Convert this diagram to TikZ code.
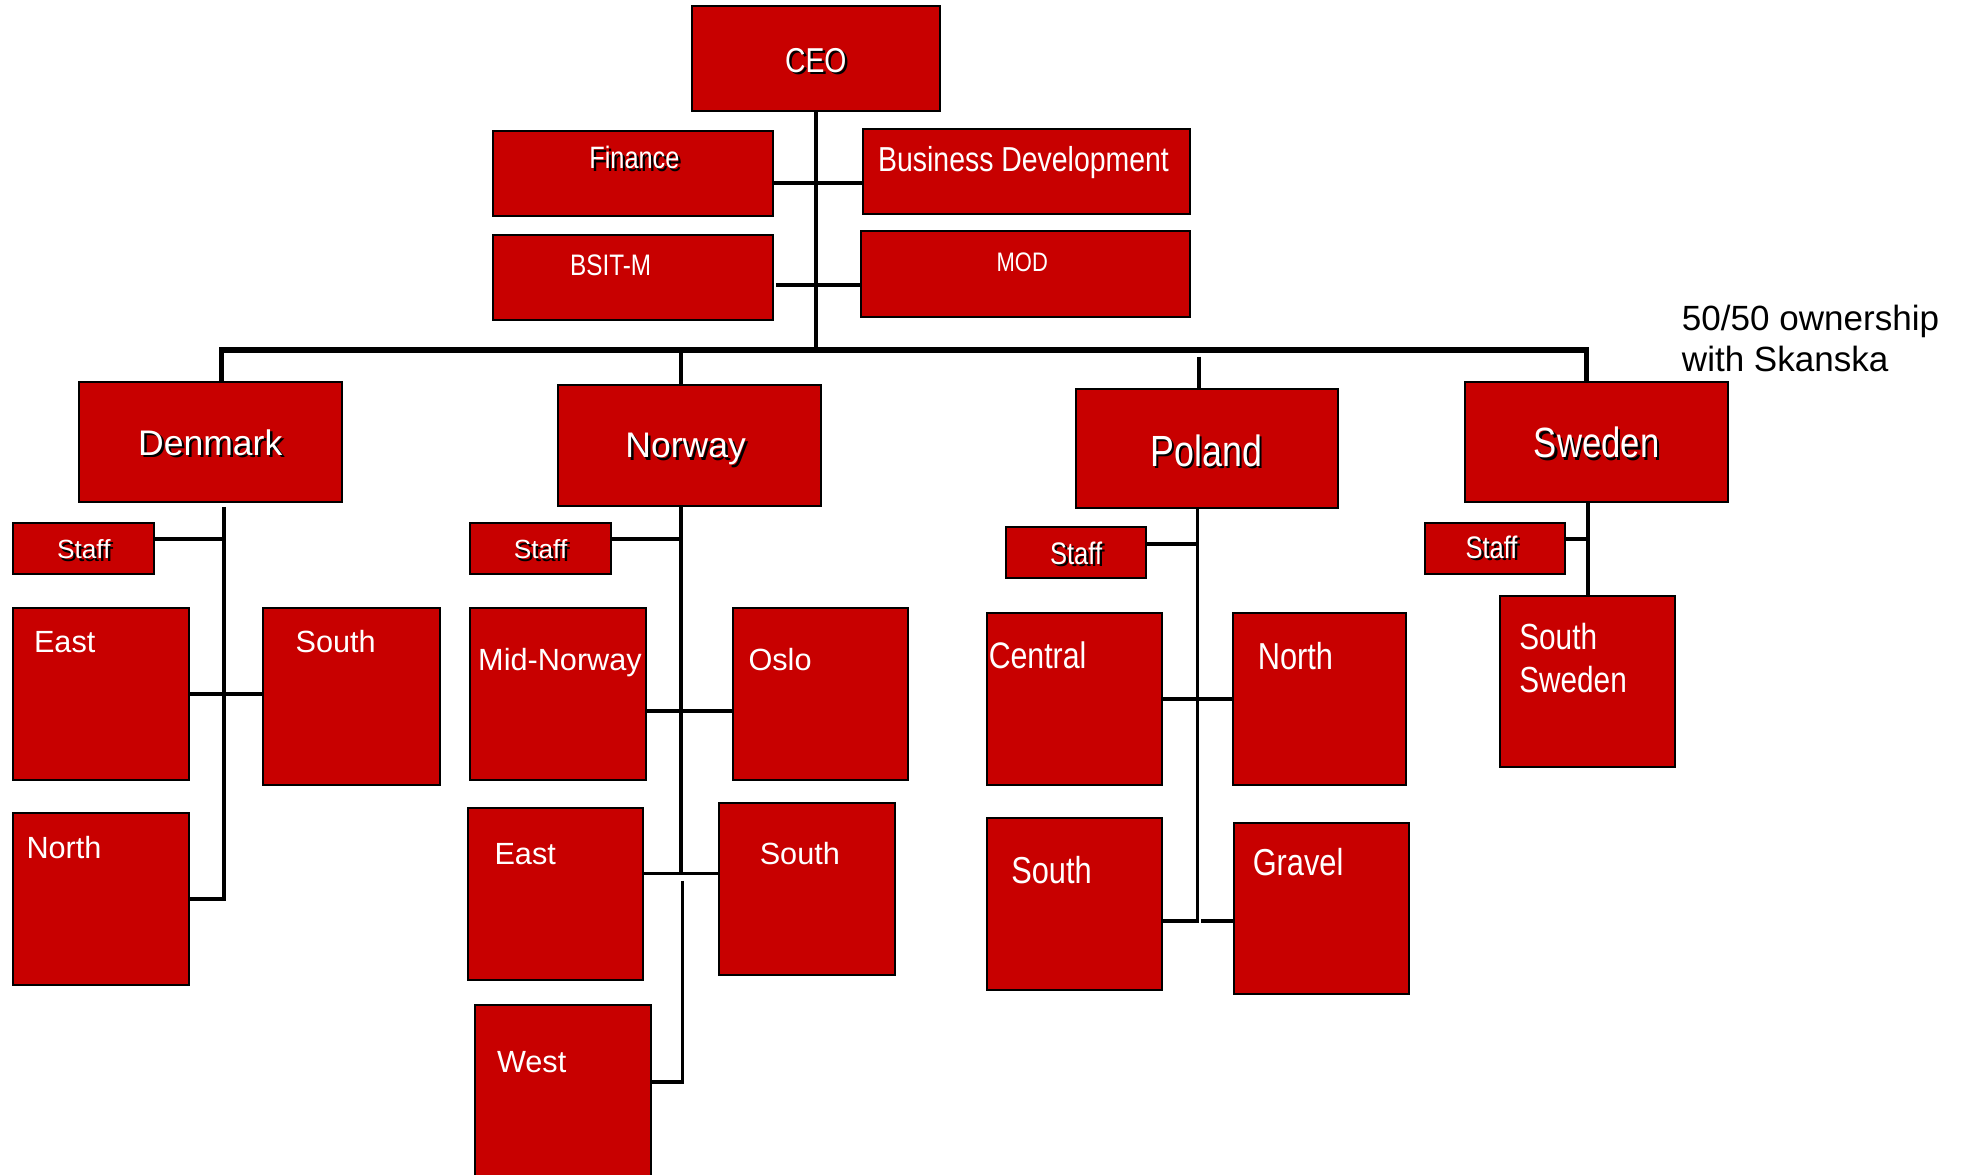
\documentclass[tikz,border=0pt]{standalone}
\usepackage{fontspec}
\setmainfont{Liberation Sans}
\newfontfamily\narrowfont[FakeStretch=0.82]{Liberation Sans}
\usetikzlibrary{calc}
\definecolor{boxred}{RGB}{200,0,0}
\newcommand\shdw[1]{\rlap{\hspace{2pt}\raisebox{-2pt}{\color{black}#1}}#1}
\begin{document}
\begin{tikzpicture}[x=1pt,y=-1pt,
  box/.style={draw=black,line width=1.6pt,fill=boxred,inner sep=0pt,outer sep=0pt},
  conn/.style={draw=black,line width=3pt},
  busline/.style={draw=black,line width=4.5pt},
  nt/.style={text=white,inner sep=0pt,font=\narrowfont\fontsize{#1}{#1}\selectfont},
  rt/.style={text=white,inner sep=0pt,font=\fontsize{#1}{#1}\selectfont},
]
\useasboundingbox (0,0) rectangle (1568,939);

% top level
\node[box,minimum width=198pt,minimum height=84pt] (ceo) at (652,47) {};
\node[box,minimum width=224pt,minimum height=68pt] (fin) at (506,139) {};
\node[box,minimum width=261pt,minimum height=68pt] (bd) at (820.5,137) {};
\node[box,minimum width=224pt,minimum height=68pt] (bsit) at (506,222) {};
\node[box,minimum width=263pt,minimum height=68pt] (mod) at (819.5,219) {};
% countries
\node[box,minimum width=210pt,minimum height=96pt] (dk) at (168,353) {};
\node[box,minimum width=210pt,minimum height=96pt] (no) at (551,356) {};
\node[box,minimum width=209pt,minimum height=95pt] (pl) at (964.5,358.5) {};
\node[box,minimum width=210pt,minimum height=96pt] (se) at (1276,353) {};
% staff
\node[box,minimum width=113pt,minimum height=41pt] (dkstaff) at (66.5,438.5) {};
\node[box,minimum width=112pt,minimum height=41pt] (nostaff) at (432,438.5) {};
\node[box,minimum width=112pt,minimum height=41pt] (plstaff) at (860,441.5) {};
\node[box,minimum width=112pt,minimum height=41pt] (sestaff) at (1195,438.5) {};
% regions
\node[box,minimum width=141pt,minimum height=137pt] (dkeast) at (80.5,554.5) {};
\node[box,minimum width=142pt,minimum height=141pt] (dksouth) at (281,556.5) {};
\node[box,minimum width=141pt,minimum height=137pt] (dknorth) at (80.5,718.5) {};
\node[box,minimum width=140pt,minimum height=137pt] (nomid) at (446,554.5) {};
\node[box,minimum width=140pt,minimum height=137pt] (nooslo) at (656,554.5) {};
\node[box,minimum width=140pt,minimum height=137pt] (noeast) at (444,714.5) {};
\node[box,minimum width=140pt,minimum height=137pt] (nosouth) at (645,710.5) {};
\node[box,minimum width=140pt,minimum height=147pt] (nowest) at (450,876.5) {};
\node[box,minimum width=140pt,minimum height=137pt] (plcentral) at (859,558.5) {};
\node[box,minimum width=139pt,minimum height=137pt] (plnorth) at (1054.5,558.5) {};
\node[box,minimum width=140pt,minimum height=137pt] (plsouth) at (859,722.5) {};
\node[box,minimum width=140pt,minimum height=136pt] (plgravel) at (1056,726) {};
\node[box,minimum width=140pt,minimum height=137pt] (sesouth) at (1269,544.5) {};

% bus and top connectors
\coordinate (busL) at (177,279.5);
\coordinate (busR) at (1268,279.5);
\draw[busline] (busL |- dk.north) -- (busL) -- (busR) -- (busR |- se.north);
\draw[conn] (ceo.south) -- (ceo.south |- busL);
\coordinate (noD) at (544,279.5);
\draw[conn] (noD) -- (noD |- no.north);
\coordinate (plD) at (958,285);
\draw[conn] (plD) -- (plD |- pl.north);
\draw[conn] ($(fin.east)+(0,7)$) -- ($(bd.west)+(0,9)$);
\draw[conn] ($(bsit.east)+(2,6)$) -- ($(mod.west)+(0,9)$);

% Denmark
\coordinate (dkTop) at (179,405);
\coordinate (dkJs) at (179,431);
\coordinate (dkJn) at (179,718.5);
\draw[conn] (dkTop) -- (dkJn) -- (dknorth.east);
\draw[conn] (dkstaff.east |- dkJs) -- (dkJs);
\draw[conn] (dkeast.east) -- (dkeast.east -| dksouth.west);

% Norway
\coordinate (noTop) at (544,404);
\coordinate (noJs) at (546,431);
\coordinate (noJo) at (544,568);
\coordinate (noJm) at (544,698);
\coordinate (noB) at (545.5,704);
\coordinate (noJw) at (545.5,865);
\draw[conn] (noTop) -- (noJm);
\draw[conn] (noB) -- (noJw) -- (nowest.east |- noJw);
\draw[conn] (nostaff.east |- noJs) -- (noJs);
\draw[conn] (nomid.east |- noJo) -- (nooslo.west |- noJo);
\draw[conn] (noeast.east |- noJm) -- (nosouth.west |- noJm);

% Poland
\coordinate (plTop) at (957,406);
\coordinate (plJs) at (957,435);
\coordinate (plJb) at (957,736);
\coordinate (plJg) at (960,736);
\draw[conn] (plTop) -- (plJb) -- (plsouth.east |- plJb);
\draw[conn] (plstaff.east |- plJs) -- (plJs);
\draw[conn] (plcentral.east) -- (plcentral.east -| plnorth.west);
\draw[conn,line width=3.8pt] (plJg) -- (plgravel.west |- plJg);

% Sweden
\coordinate (seJs) at (1269,431);
\draw[conn] (se.south -| sesouth.north) -- (sesouth.north);
\draw[conn] (sestaff.east |- seJs) -- (seJs);

% texts
\node[nt=27.6,anchor=base] (ceoT) at (652,57.9) {\shdw{CEO}};
\node[nt=24.7,anchor=base] (finT) at (507,134.8) {\shdw{Finance}};
\node[nt=27.7,anchor=base] (bdT) at (818,136.9) {Business Development};
\node[nt=23.7,anchor=base] (bsitT) at (488,220.5) {BSIT-M};
\node[nt=21.4,anchor=base] (modT) at (817,216.7) {MOD};
\node[rt=28.4,anchor=base] (dkT) at (168,364) {\shdw{Denmark}};
\node[rt=28.4,anchor=base] (noT) at (548,366) {\shdw{Norway}};
\node[nt=34.9,anchor=base] (plT) at (964,372.5) {\shdw{Poland}};
\node[nt=33.8,anchor=base] (seT) at (1276,366) {\shdw{Sweden}};
\node[rt=21,anchor=base] (dkstaffT) at (67,446.5) {\shdw{Staff}};
\node[rt=21,anchor=base] (nostaffT) at (432,446.5) {\shdw{Staff}};
\node[nt=24.9,anchor=base] (plstaffT) at (860,451) {\shdw{Staff}};
\node[nt=24.9,anchor=base] (sestaffT) at (1192,446) {\shdw{Staff}};
\node[rt=24.5,anchor=base west] (dkeastT) at (27,521.8) {East};
\node[rt=24.5,anchor=base west] (dksouthT) at (236,521.8) {South};
\node[rt=24.5,anchor=base west] (dknorthT) at (21,685.8) {North};
\node[rt=24.5,anchor=base west] (nomidT) at (382,535.8) {Mid-Norway};
\node[rt=24.5,anchor=base west] (noosloT) at (598,535.8) {Oslo};
\node[rt=24.5,anchor=base west] (noeastT) at (395,690.8) {East};
\node[rt=24.5,anchor=base west] (nosouthT) at (607,690.8) {South};
\node[rt=24.5,anchor=base west] (nowestT) at (397,856.8) {West};
\node[nt=29.5,anchor=base west] (plcentralT) at (790,534.6) {Central};
\node[nt=30,anchor=base west] (plnorthT) at (1005,534.7) {North};
\node[nt=30,anchor=base west] (plsouthT) at (808,705.7) {South};
\node[nt=30,anchor=base west] (plgravelT) at (1001,699.7) {Gravel};
\node[nt=29,anchor=base west] (sesouthT1) at (1214,519.4) {South};
\node[nt=29,anchor=base west] (sesouthT2) at (1214,553.4) {Sweden};
\node[rt=28,anchor=base west,text=black] (own1) at (1344,264) {50/50 ownership};
\node[rt=28,anchor=base west,text=black] (own2) at (1344,297) {with Skanska};
\end{tikzpicture}
\end{document}
